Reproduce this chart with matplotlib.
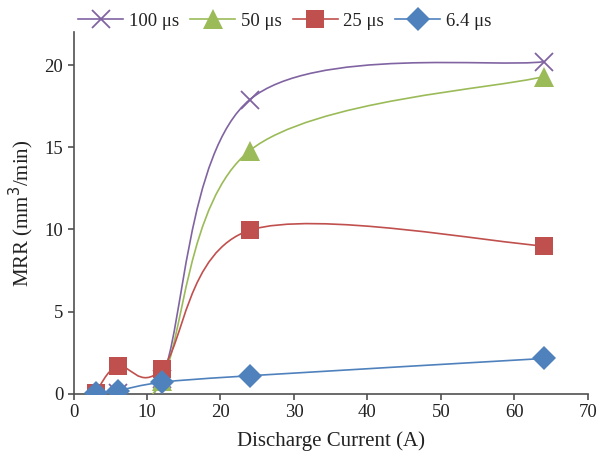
import matplotlib
matplotlib.use('Agg')
import matplotlib.pyplot as plt
from matplotlib.path import Path
from matplotlib.patches import PathPatch
from matplotlib.lines import Line2D
import numpy as np

# data
current_100 = [6, 12, 24, 64]
mrr_100 = [0.05, 0.9, 17.9, 20.2]
current_50 = [6, 12, 24, 64]
mrr_50 = [0.0, 0.8, 14.8, 19.3]
current_25 = [3, 6, 12, 24, 64]
mrr_25 = [0.05, 1.7, 1.5, 9.95, 9.0]
current_64 = [3, 6, 12, 24, 64]
mrr_64 = [0.05, 0.2, 0.7, 1.1, 2.15]

labels = ['100 μs', '50 μs', '25 μs', '6.4 μs']
colors = ['#8064A2', '#9BBB59', '#C0504D', '#4F81BD']
markers = ['x', '^', 's', 'D']
msizes = [13, 14, 13, 12]

plt.rcParams['font.family'] = ['Liberation Serif', 'DejaVu Serif']


# smoothed line like the spreadsheet one: bezier pieces through the points
def smooth_path(xs, ys):
    pts = np.column_stack([xs, ys]).astype(float)
    n = len(pts)
    verts = [pts[0]]
    codes = [Path.MOVETO]
    for i in range(n - 1):
        p0 = pts[i - 1] if i > 0 else pts[i]
        p1 = pts[i]
        p2 = pts[i + 1]
        p3 = pts[i + 2] if i + 2 < n else pts[i + 1]
        c1 = p1 + (p2 - p0) / 6.0
        c2 = p2 - (p3 - p1) / 6.0
        verts += [c1, c2, p2]
        codes += [Path.CURVE4] * 3
    return Path(verts, codes)


fig = plt.figure(figsize=(5.98, 4.59), dpi=100)
ax = fig.add_axes([0.123, 0.142, 0.860, 0.788])

series = [(current_100, mrr_100), (current_50, mrr_50),
          (current_25, mrr_25), (current_64, mrr_64)]
handles = []
for k, (xs, ys) in enumerate(series):
    patch = PathPatch(smooth_path(xs, ys), facecolor='none', edgecolor=colors[k],
                      lw=1.2, zorder=2 + k)
    ax.add_patch(patch)
    if markers[k] == 'x':
        ax.plot(xs, ys, ls='none', marker='x', ms=msizes[k], mew=1.3,
                color=colors[k], zorder=2 + k)
    else:
        ax.plot(xs, ys, ls='none', marker=markers[k], ms=msizes[k], mew=0,
                color=colors[k], zorder=2 + k)
    handles.append(Line2D([], [], color=colors[k], lw=1.2, marker=markers[k],
                          ms=msizes[k], mew=1.3 if markers[k] == 'x' else 0))

ax.set_xlim(0, 70)
ax.set_ylim(0, 22)
ax.set_xticks(range(0, 71, 10))
ax.set_yticks(range(0, 21, 5))

for s in ['top', 'right']:
    ax.spines[s].set_visible(False)
for s in ['left', 'bottom']:
    ax.spines[s].set_color('#505050')
    ax.spines[s].set_linewidth(1.2)
ax.tick_params(direction='out', length=4, width=1.2, color='#505050',
               labelsize=13.5, labelcolor='#222222')

ax.set_xlabel('Discharge Current (A)', fontsize=15, color='#222222', labelpad=7)
ax.set_ylabel('MRR (mm$^3$/min)', fontsize=15, color='#222222', labelpad=6)

fig.legend(handles, labels, loc='center left', bbox_to_anchor=(78 / 598, 1 - 21 / 459),
           ncol=4, frameon=False, fontsize=13.5, handlelength=2.4,
           handletextpad=0.3, columnspacing=0.6, borderpad=0, borderaxespad=0,
           labelcolor='#222222')

fig.savefig('out.png', dpi=100)
